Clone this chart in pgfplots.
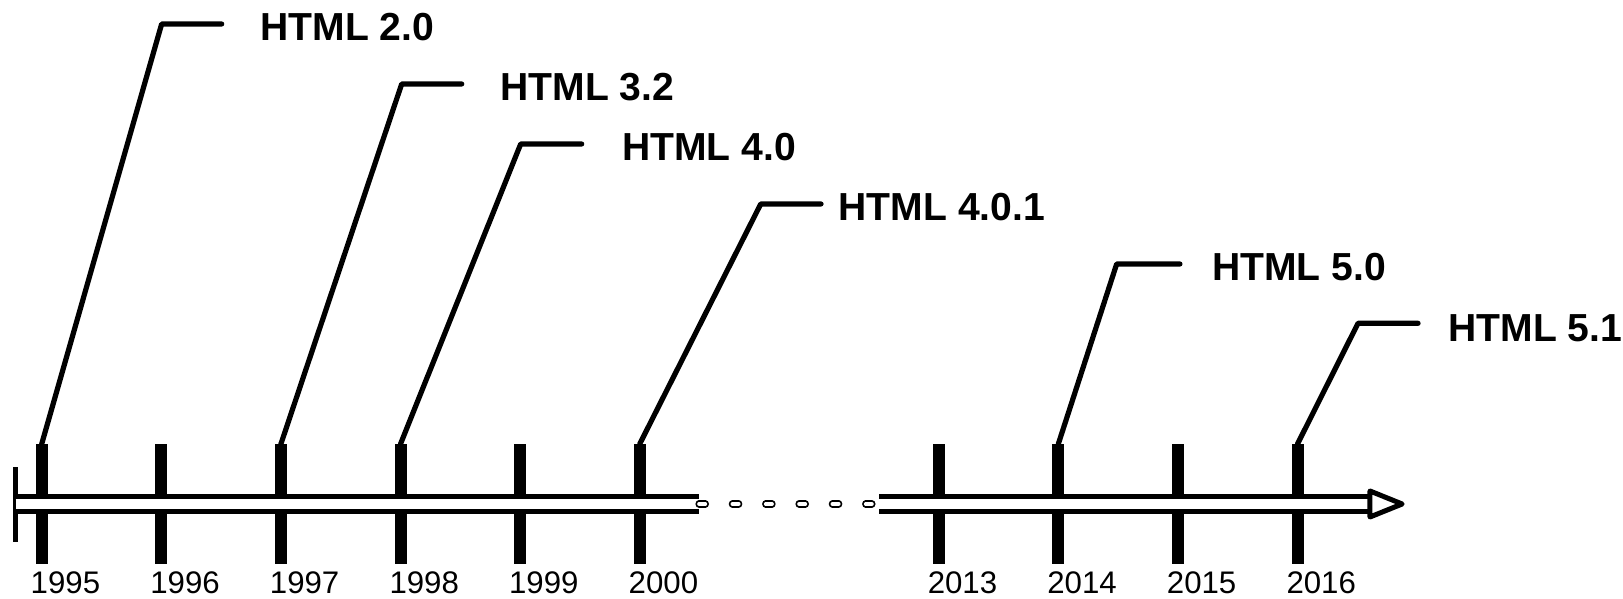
\documentclass[border=0pt]{standalone}
\usepackage{pgfplots}
\pgfplotsset{compat=1.18}
\usepackage{fontspec}
\setmainfont{Liberation Sans}
\begin{document}
\begin{tikzpicture}
\begin{axis}[
  width=811.5pt, height=299.5pt, scale only axis,
  hide axis, clip=false,
  xmin=-0.3487, xmax=13.2216, ymin=0, ymax=599,
]
\path (rel axis cs:0,0) rectangle (rel axis cs:1,1);
% year tick bars (position on the time line)
\pgfplotsinvokeforeach{0,1,2,3,4,5,7.5,8.5,9.5,10.5}{
  \addplot[black, line width=6pt, line cap=butt] coordinates {(#1,35) (#1,155)};
}
% left end bar
\addplot[black, line width=2.35pt] coordinates {(-0.2174,57.3) (-0.2174,132.3)};
% main double line
\addplot[black, line width=2.5pt, double=white, double distance=5pt, line cap=butt]
  coordinates {(-0.2174,95) (5.498,95)};
\addplot[black, line width=0.9pt, double=white, double distance=1.8pt, line cap=round,
  dash pattern=on 3.2pt off 13.467pt]
  coordinates {(5.4958,95) (6.942,95)};
\addplot[black, line width=2.5pt, double=white, double distance=5pt, line cap=butt]
  coordinates {(7.0008,95) (11.106,95)};
% arrow head
\addplot[black, line width=2.5pt, fill=white, line join=round]
  coordinates {(11.106,108) (11.375,95) (11.106,82)} -- cycle;
% leader lines
\addplot[black, line width=2.6pt, line cap=round, line join=round] coordinates {(0,155) (1.003,575) (1.505,575)};
\addplot[black, line width=2.6pt, line cap=round, line join=round] coordinates {(2,155) (3.010,515) (3.512,515)};
\addplot[black, line width=2.6pt, line cap=round, line join=round] coordinates {(3,155) (4.005,455) (4.515,455)};
\addplot[black, line width=2.6pt, line cap=round, line join=round] coordinates {(5,155) (6.012,395) (6.516,395)};
\addplot[black, line width=2.6pt, line cap=round, line join=round] coordinates {(8.5,155) (8.988,335) (9.517,335)};
\addplot[black, line width=2.6pt, line cap=round, line join=round] coordinates {(10.5,155) (11.006,275.7) (11.508,275.7)};
% version labels
\begin{scope}[every node/.style={anchor=west, inner sep=0pt, font=\fontsize{19.55}{22}\selectfont\bfseries}]
\node at (axis cs:1.825,572.3) {HTML 2.0};
\node at (axis cs:3.832,512.3) {HTML 3.2};
\node at (axis cs:4.849,452.3) {HTML 4.0};
\node at (axis cs:6.661,392.3) {HTML 4.0.1};
\node at (axis cs:9.783,332.3) {HTML 5.0};
\node at (axis cs:11.758,271) {HTML 5.1};
\end{scope}
% year labels
\begin{scope}[every node/.style={anchor=west, inner sep=0pt, font=\fontsize{15.6}{18}\selectfont}]
\node at (axis cs:-0.095,16.5) {1995};
\node at (axis cs:0.905,16.5) {1996};
\node at (axis cs:1.905,16.5) {1997};
\node at (axis cs:2.905,16.5) {1998};
\node at (axis cs:3.905,16.5) {1999};
\node at (axis cs:4.905,16.5) {2000};
\node at (axis cs:7.405,16.5) {2013};
\node at (axis cs:8.405,16.5) {2014};
\node at (axis cs:9.405,16.5) {2015};
\node at (axis cs:10.405,16.5) {2016};
\end{scope}
\end{axis}
\end{tikzpicture}
\end{document}
